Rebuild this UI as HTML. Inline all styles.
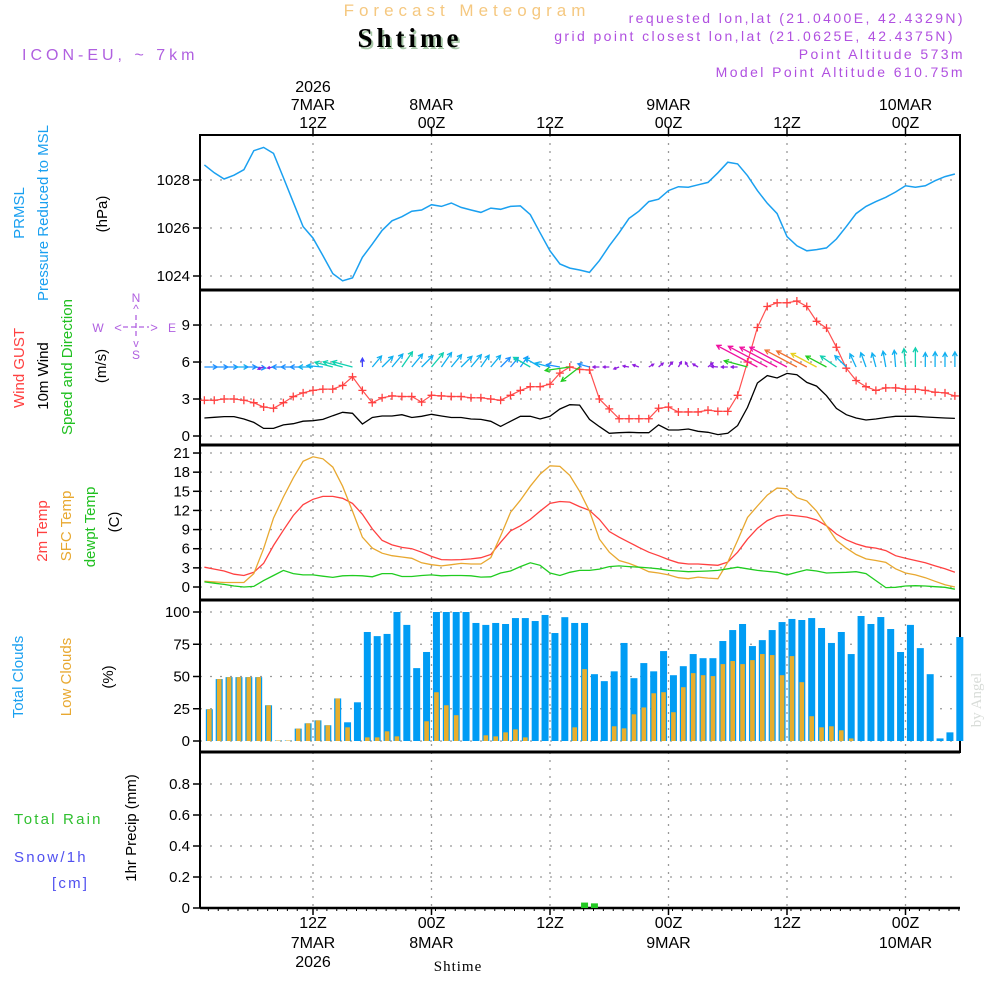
<!DOCTYPE html>
<html><head><meta charset="utf-8"><title>Forecast Meteogram Shtime</title>
<style>
html,body{margin:0;padding:0;background:#fff;}
svg{display:block;font-family:"Liberation Sans",sans-serif;}
</style></head>
<body>
<svg id="chart" width="1000" height="1000" viewBox="0 0 1000 1000" xmlns="http://www.w3.org/2000/svg">
<rect x="0" y="0" width="1000" height="1000" fill="#fff"/>
<g>
<text x="467" y="16" text-anchor="middle" font-size="17" fill="#f5c880" letter-spacing="5">Forecast Meteogram</text>
<text x="412" y="49" text-anchor="middle" font-size="27" font-weight="bold" font-family="Liberation Serif,serif" fill="#a8c8a8" letter-spacing="4">Shtime</text>
<text x="410" y="47" text-anchor="middle" font-size="27" font-weight="bold" font-family="Liberation Serif,serif" fill="#000" letter-spacing="4">Shtime</text>
<text x="22" y="60" font-size="16" fill="#b060e0" letter-spacing="4">ICON-EU, ~ 7km</text>
<g font-size="14" fill="#b050e0" text-anchor="end" letter-spacing="2.4">
<text x="965" y="23">requested lon,lat (21.0400E, 42.4329N)</text>
<text x="955" y="41">grid point closest lon,lat (21.0625E, 42.4375N)</text>
<text x="965" y="59">Point Altitude 573m</text>
<text x="965" y="77">Model Point Altitude 610.75m</text>
</g>
</g>
<g id="axes"></g>
<g id="marks"></g>
<g font-size="15">
<text transform="translate(24,213) rotate(-90)" text-anchor="middle" fill="#1aa0f0">PRMSL</text>
<text transform="translate(48,213) rotate(-90)" text-anchor="middle" fill="#1aa0f0">Pressure Reduced to MSL</text>
<text transform="translate(107,214) rotate(-90)" text-anchor="middle" fill="#000">(hPa)</text>
<text transform="translate(24,368) rotate(-90)" text-anchor="middle" fill="#ff4040">Wind GUST</text>
<text transform="translate(48,376) rotate(-90)" text-anchor="middle" fill="#000">10m Wind</text>
<text transform="translate(72,367) rotate(-90)" text-anchor="middle" fill="#20c020">Speed and Direction</text>
<text transform="translate(106,366) rotate(-90)" text-anchor="middle" fill="#000">(m/s)</text>
<text transform="translate(47,531) rotate(-90)" text-anchor="middle" fill="#ff4040">2m Temp</text>
<text transform="translate(71,526) rotate(-90)" text-anchor="middle" fill="#e8a830">SFC Temp</text>
<text transform="translate(95,527) rotate(-90)" text-anchor="middle" fill="#20c020">dewpt Temp</text>
<text transform="translate(119,522) rotate(-90)" text-anchor="middle" fill="#000">(C)</text>
<text transform="translate(23,677) rotate(-90)" text-anchor="middle" fill="#1aa0f0">Total Clouds</text>
<text transform="translate(71,677) rotate(-90)" text-anchor="middle" fill="#e8a830">Low Clouds</text>
<text transform="translate(113,677) rotate(-90)" text-anchor="middle" fill="#000">(%)</text>
<text transform="translate(136,828) rotate(-90)" text-anchor="middle" fill="#000">1hr Precip (mm)</text>
<text x="14" y="824" fill="#30c030" letter-spacing="2.2">Total   Rain</text>
<text x="14" y="862" fill="#5050f0" letter-spacing="2.2">Snow/1h</text>
<text x="52" y="888" fill="#5050f0" letter-spacing="2.2">[cm]</text>
</g>
<g fill="#b060e0" font-size="12" text-anchor="middle">
<text x="136" y="302">N</text>
<text x="136" y="313">^</text>
<text x="98" y="332">W</text>
<text x="172" y="332">E</text>
<text x="136" y="359">S</text>
<text x="118" y="332" font-size="13">&lt;</text>
<text x="154" y="332" font-size="13">&gt;</text>
<text x="136" y="347" font-size="11">v</text>
<line x1="123" y1="327" x2="149" y2="327" stroke="#b060e0" stroke-width="1.3" stroke-dasharray="5,3"/>
<line x1="136" y1="315" x2="136" y2="339" stroke="#b060e0" stroke-width="1.3" stroke-dasharray="5,3"/>
</g>
<text transform="translate(981,700) rotate(-90)" text-anchor="middle" font-family="Liberation Serif,serif" font-size="15" fill="#d8dcd8">by Angel</text>
<text x="458" y="971" text-anchor="middle" font-family="Liberation Serif,serif" font-size="15" letter-spacing="1" fill="#000">Shtime</text>
</svg>
<script>
// hours 1..77 from 7MAR 00Z
const pressure = [1028.63,1028.3,1028.04,1028.2,1028.43,1029.22,1029.36,1029.11,1028.1,1027.07,1026.06,1025.58,1024.85,1024.1,1023.8,1023.92,1024.78,1025.33,1025.9,1026.3,1026.47,1026.7,1026.75,1026.97,1026.9,1027.04,1026.86,1026.75,1026.65,1026.83,1026.78,1026.9,1026.92,1026.56,1025.8,1025.05,1024.5,1024.33,1024.25,1024.15,1024.64,1025.26,1025.8,1026.4,1026.7,1027.1,1027.2,1027.56,1027.72,1027.7,1027.8,1027.9,1028.3,1028.74,1028.67,1028.18,1027.56,1027.03,1026.6,1025.64,1025.26,1025.05,1025.1,1025.17,1025.54,1026.06,1026.6,1026.9,1027.1,1027.28,1027.5,1027.76,1027.7,1027.76,1027.97,1028.14,1028.25];
const windSpeed = [1.46,1.52,1.57,1.57,1.38,1.1,0.62,0.62,0.9,1.0,1.2,1.24,1.35,1.65,1.92,1.84,0.97,1.5,1.62,1.62,1.73,1.5,1.6,1.76,1.62,1.5,1.5,1.38,1.35,1.19,0.78,1.19,1.6,1.6,1.38,1.6,2.19,2.54,2.51,1.35,0.76,0.22,0.27,0.3,0.27,0.27,0.9,0.49,0.49,0.57,0.38,0.3,0.11,0.22,0.84,2.32,4.3,4.9,4.7,5.08,4.97,4.35,4.05,3.27,2.24,1.73,1.46,1.3,1.38,1.5,1.6,1.6,1.6,1.54,1.5,1.46,1.43];
const windGust = [2.9,2.9,3.0,3.0,2.9,2.7,2.35,2.25,2.7,3.2,3.5,3.7,3.8,3.8,4.1,4.8,3.7,2.7,3.1,3.25,3.2,3.2,2.75,3.3,3.25,3.2,3.2,3.1,3.1,3.0,2.9,3.3,3.7,4.0,4.0,4.2,5.1,5.6,5.4,5.35,3.0,2.2,1.4,1.4,1.4,1.4,2.25,2.35,1.95,1.95,1.95,2.1,2.0,2.0,3.3,6.0,8.8,10.5,10.8,10.8,10.95,10.5,9.3,8.75,7.2,5.5,4.5,4.0,3.7,3.9,3.9,3.8,3.8,3.7,3.55,3.5,3.25];
const arrowDir = [0,0,0,0,0,-5,200,190,180,180,180,180,175,165,165,165,90,50,45,50,55,50,45,50,55,50,45,50,55,50,45,50,55,150,150,165,170,188,218,165,180,180,200,170,160,30,40,50,60,120,150,40,175,180,180,165,152,152,152,152,152,152,152,152,145,135,115,110,105,100,95,95,90,90,90,90,90];
const arrowSpeed = [3.2,3.4,3.4,3.5,3.2,3.0,1.5,1.5,2.8,3.0,3.2,3.6,4.0,4.6,5.0,5.2,2.2,3.6,3.8,4.2,4.6,4.2,4.0,4.6,4.4,4.0,3.8,4.0,3.6,3.8,3.4,3.0,3.2,4.8,4.4,3.8,3.4,6.2,5.8,3.0,1.6,1.5,1.4,1.5,1.6,1.4,1.5,1.6,1.5,1.4,1.5,1.6,1.7,1.6,1.6,6.0,11.5,11,10.5,10.5,9,8.5,7.2,5.8,4.8,4.0,3.6,3.8,3.6,4.0,4.2,4.6,4.8,3.6,3.8,3.6,3.8];
const temp2m = [3.1,2.8,2.5,2.0,1.8,2.3,3.7,6.5,8.9,11.2,12.9,13.75,14.2,14.2,13.9,13.1,11.4,9.1,7.3,6.6,6.2,6.0,5.45,4.8,4.3,4.25,4.3,4.4,4.6,5.1,7.0,8.8,9.6,10.6,11.9,13.1,13.4,13.3,12.6,12.0,10.6,8.7,7.8,7.0,6.2,5.45,4.9,4.3,3.8,3.6,3.6,3.5,3.4,3.9,5.45,7.5,9.2,10.4,11.1,11.3,11.15,10.95,10.5,9.6,8.3,7.4,6.75,6.3,6.1,5.7,4.9,4.5,4.15,3.8,3.3,2.85,2.3];
const tempSfc = [0.9,0.8,0.7,0.7,0.7,2.1,6.0,10.8,14.1,17.1,19.7,20.4,20.1,18.8,15.8,11.9,7.8,6.1,5.3,4.9,4.7,4.5,3.8,3.5,3.3,3.5,3.7,3.6,3.6,4.6,8.0,11.7,13.6,15.8,17.7,19.0,18.9,17.5,15.0,11.9,7.5,5.45,4.15,3.7,3.1,2.4,2.2,1.9,1.45,1.3,1.55,1.4,1.3,3.9,7.3,10.9,12.7,14.4,15.5,15.4,14.0,13.5,11.9,9.6,7.3,6.1,5.1,4.4,4.15,3.85,2.85,2.2,1.9,1.45,0.9,0.35,0.0];
const tempDew = [0.8,0.6,0.4,0.15,0.0,0.1,1.0,1.8,2.6,2.1,1.9,1.9,1.7,1.5,1.75,1.8,1.75,1.6,2.1,2.1,1.65,1.65,1.8,1.9,1.75,1.8,1.8,1.75,1.55,1.6,2.2,2.5,3.2,3.8,3.4,2.2,1.8,2.3,2.6,2.6,2.8,3.2,3.3,3.2,3.1,3.0,2.85,2.6,2.5,2.4,2.45,2.5,2.6,2.85,3.1,2.85,2.6,2.45,2.3,1.9,2.3,2.7,2.5,2.2,2.25,2.3,2.4,2.1,1.0,-0.1,-0.05,0.15,0.2,0.15,0.05,-0.05,-0.35];
const totalClouds = [24.6,48,49.5,49.5,49.5,49.5,27.7,0.4,0.4,9.6,13.7,16,12.2,33,14.5,30,84.5,81.3,83,100,90,56.5,69,100,100,100,100,91.5,90,91.5,90.7,95.3,95.3,93,97.7,83.7,96,91.5,91.5,51.8,46.4,54,76,48.7,60.4,54,69.7,51,58,67.4,64.2,64.2,77.5,86,90.7,73.6,78.2,86,92.2,94.6,93.8,95.3,87.6,76,84.5,67.4,96.9,90.7,96.1,86.8,69,90,72,51.8,2,6.7,80.6];
const lowClouds = [24.6,48,49.5,49.5,49.5,49.5,27.7,0.4,0.4,9.6,13.7,16,12.2,33,10.6,0,2.8,2.8,7.5,3.6,0,0,15.3,37.8,27.7,20,0,0,4.4,3.6,6.7,9,2.8,0,0,0,0,10.6,55.7,0,0,11.4,9.8,20.7,26,37,37.8,22.3,41.7,52.6,51,50.3,59.6,62,59.6,62.7,67.4,66.6,51,65.8,45.6,19.2,10.6,11.4,8.3,2,0,0,0,0,0,0,0,0,0,0,0];
const precip = [0,0,0,0,0,0,0,0,0,0,0,0,0,0,0,0,0,0,0,0,0,0,0,0,0,0,0,0,0,0,0,0,0,0,0,0,0,0,0.035,0.03,0,0,0,0,0,0,0,0,0,0,0,0,0,0,0,0,0,0,0,0,0,0,0,0,0,0,0,0,0,0,0,0,0,0,0,0,0];
const timeTicksHour = [12,24,36,48,60,72];
const timeTopLabels = [["2026","7MAR","12Z"],["","8MAR","00Z"],["","","12Z"],["","9MAR","00Z"],["","","12Z"],["","10MAR","00Z"]];
const timeBottomLabels = [["12Z","7MAR","2026"],["00Z","8MAR",""],["12Z","",""],["00Z","9MAR",""],["12Z","",""],["00Z","10MAR",""]];
const pTicks = [1024,1026,1028];
const wTicks = [0,3,6,9];
const tTicks = [0,3,6,9,12,15,18,21];
const cTicks = [0,25,50,75,100];
const rTicks = [0,0.2,0.4,0.6,0.8];

const NS='http://www.w3.org/2000/svg';
const L=200,R=960;
function xH(h){return 313+(h-12)*9.875;}
function yP(v){return 276-(v-1024)*24;}
function yW(v){return 436-v*12.33;}
function yT(v){return 587-v*6.38;}
function yC(v){return 741-v*1.29;}
function yR(v){return 908-v*155;}
function mk(tag,parent,attrs){const e=document.createElementNS(NS,tag);for(const k in attrs)e.setAttribute(k,attrs[k]);parent.appendChild(e);return e;}
const axes=document.getElementById('axes');
const marks=document.getElementById('marks');
const panels=[[135,290,pTicks,yP,v=>String(v)],[290,445,wTicks,yW,v=>String(v)],[445,600,tTicks,yT,v=>String(v)],[600,752,cTicks,yC,v=>String(v)],[752,908,rTicks,yR,v=>v===0?'0':v.toFixed(1)]];
const pnames=['pressure','wind','temperature','clouds','precip'];
panels.forEach((p,i)=>{
  const g=mk('g',axes,{});
  
  
  p[2].forEach(v=>{
    const y=p[3](v);
    const gl=mk('line',g,{x1:L,x2:R,y1:y,y2:y,stroke:'#999','stroke-dasharray':'2,8','stroke-width':1.3});
    
    
    const tk=mk('line',g,{x1:L-7,x2:L,y1:y,y2:y,stroke:'#000','stroke-width':1.5});
    
    
    const t=mk('text',g,{x:L-10,y:y+5,'text-anchor':'end','font-size':15,fill:'#000'});
    t.textContent=p[4](v);
    
    
  });
  timeTicksHour.forEach(h=>{
    const vl=mk('line',g,{x1:xH(h),x2:xH(h),y1:p[0],y2:p[1],stroke:'#999','stroke-dasharray':'2,6','stroke-width':1.3});
    
    
  });
});
const fr=mk('rect',axes,{x:L,y:135,width:R-L,height:617,fill:'none',stroke:'#000','stroke-width':2});


[290,445,600,752].forEach(y=>{
  const s=mk('line',axes,{x1:L,x2:R,y1:y,y2:y,stroke:'#000','stroke-width':3});
  
  
});
const lb=mk('line',axes,{x1:L,x2:L,y1:752,y2:908,stroke:'#000','stroke-width':2});


const bx=mk('line',axes,{x1:L,x2:R,y1:908,y2:908,stroke:'#000','stroke-width':2.5});


for(let h=1;h<=77;h++){
  const t=mk('line',axes,{x1:xH(h)+4,x2:xH(h)+4,y1:908,y2:911,stroke:'#000','stroke-width':1});
  
  
}
timeTicksHour.forEach((h,i)=>{
  const x=xH(h);
  const tt=mk('line',axes,{x1:x,x2:x,y1:128,y2:135,stroke:'#000','stroke-width':1.5});
  
  
  const bt=mk('line',axes,{x1:x,x2:x,y1:908,y2:915,stroke:'#000','stroke-width':1.5});
  
  
  const ty=[92,110,128];
  timeTopLabels[i].forEach((s,j)=>{
    if(!s)return;
    const t=mk('text',axes,{x:x,y:ty[j],'text-anchor':'middle','font-size':16,fill:'#000'});
    t.textContent=s;
    
    
  });
  const by=[928,948,967];
  timeBottomLabels[i].forEach((s,j)=>{
    if(!s)return;
    const t=mk('text',axes,{x:x,y:by[j],'text-anchor':'middle','font-size':16,fill:'#000'});
    t.textContent=s;
    
    
  });
});
function pts(arr,yf){return arr.map((v,i)=>xH(i+1).toFixed(1)+','+yf(v).toFixed(1)).join(' ');}
totalClouds.forEach((v,i)=>{
  const x=xH(i+1.5);
  const b=mk('rect',marks,{x:x-3.5,y:yC(v),width:7,height:yC(0)-yC(v),fill:'#009cf4'});
  
  
});
lowClouds.forEach((v,i)=>{
  const x=xH(i+1.5);
  const b=mk('rect',marks,{x:x-2.3,y:yC(v),width:4.6,height:yC(0)-yC(v),fill:'#e8ae2c'});
  
  
});
precip.forEach((v,i)=>{
  if(v<=0)return;
  const x=xH(i+1.5);
  const b=mk('rect',marks,{x:x-3.5,y:yR(v),width:7,height:yR(0)-yR(v),fill:'#22c822'});
  
  
});
const pl=mk('polyline',marks,{points:pts(pressure,yP),fill:'none',stroke:'#1aa0f0','stroke-width':1.5});


const wl=mk('polyline',marks,{points:pts(windSpeed,yW),fill:'none',stroke:'#000','stroke-width':1.3});


const gl=mk('polyline',marks,{points:pts(windGust,yW),fill:'none',stroke:'#ff5050','stroke-width':1.2});


windGust.forEach((v,i)=>{
  const x=xH(i+1),y=yW(v);
  const m=mk('path',marks,{d:`M${x-4},${y}H${x+4}M${x},${y-4}V${y+4}`,stroke:'#ff4040','stroke-width':1.3});
  
  
});
function aCol(s){if(s>=10)return'#f010a0';if(s>=8.5)return'#f07030';if(s>=6.5)return'#e8d020';if(s>=5.5)return'#20cc20';if(s>=4.5)return'#10d0b0';if(s>=3.5)return'#10b0f0';if(s>=2.5)return'#1e90ff';if(s>=1.8)return'#4040ff';return'#9020e0';}
arrowSpeed.forEach((s,i)=>{
  const x0=xH(i+1),y0=367,len=s*4,a=arrowDir[i]*Math.PI/180;
  const x1=x0+len*Math.cos(a),y1=y0-len*Math.sin(a);
  const hl=Math.min(5,len*0.45);
  const a1=a+Math.PI-0.5,a2=a+Math.PI+0.5;
  const d=`M${x0.toFixed(1)},${y0}L${x1.toFixed(1)},${y1.toFixed(1)}M${(x1+hl*Math.cos(a1)).toFixed(1)},${(y1-hl*Math.sin(a1)).toFixed(1)}L${x1.toFixed(1)},${y1.toFixed(1)}L${(x1+hl*Math.cos(a2)).toFixed(1)},${(y1-hl*Math.sin(a2)).toFixed(1)}`;
  const ar=mk('path',marks,{d:d,fill:'none',stroke:aCol(s),'stroke-width':1.3});
  
  
});
const t2=mk('polyline',marks,{points:pts(temp2m,yT),fill:'none',stroke:'#ff4040','stroke-width':1.3});


const ts=mk('polyline',marks,{points:pts(tempSfc,yT),fill:'none',stroke:'#e8a830','stroke-width':1.3});


const td=mk('polyline',marks,{points:pts(tempDew,yT),fill:'none',stroke:'#20cc20','stroke-width':1.3});


</script>
</body></html>
